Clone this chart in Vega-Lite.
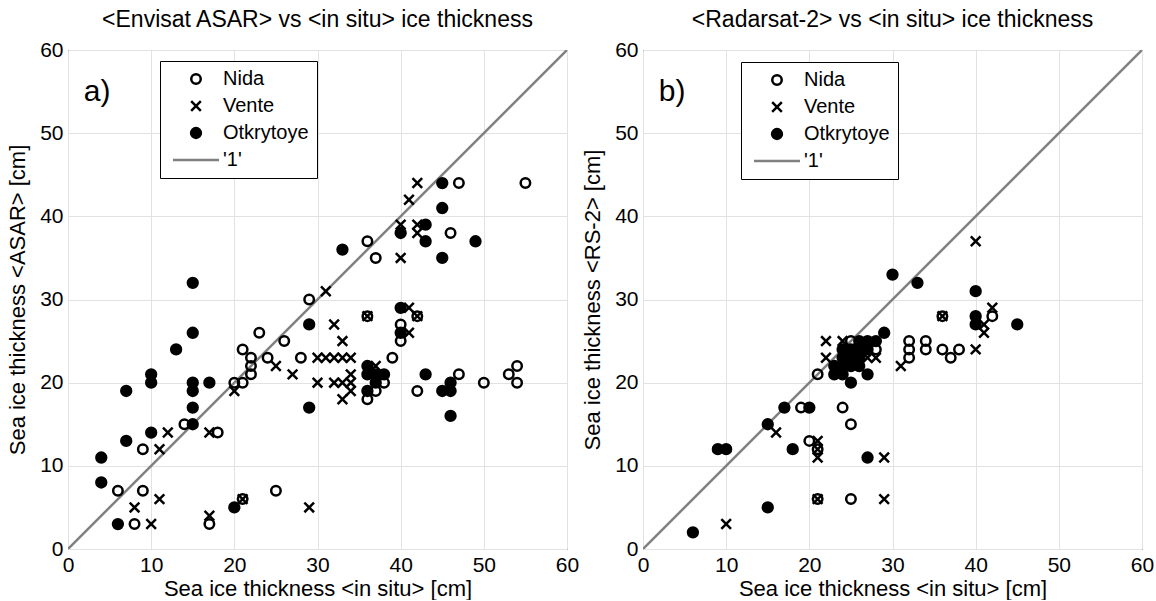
{
  "$schema": "https://vega.github.io/schema/vega-lite/v6.json",
  "padding": {"left": 6, "top": 8, "right": 2, "bottom": 0},
  "background": "white",
  "spacing": 1,
  "config": {
    "font": "Liberation Sans",
    "view": {"stroke": "black", "strokeWidth": 1},
    "axis": {"grid": true, "gridColor": "#e2e2e2", "gridWidth": 1, "ticks": false, "domain": false, "labelFontSize": 21, "labelColor": "black", "titleFontSize": 22, "titleFontWeight": "normal", "titleColor": "black", "labelPadding": 5, "labelFlush": false},
    "title": {"fontSize": 23, "fontWeight": "normal", "offset": 7, "color": "black"}
  },
  "datasets": {
    "one": [{"x": 0, "y": 0}, {"x": 60, "y": 60}],
    "asar": [
      {"series": "Nida", "x": 55, "y": 44}, {"series": "Nida", "x": 47, "y": 44}, {"series": "Nida", "x": 46, "y": 38}, {"series": "Nida", "x": 42, "y": 28}, {"series": "Nida", "x": 36, "y": 28}, {"series": "Nida", "x": 36, "y": 37}, {"series": "Nida", "x": 37, "y": 35}, {"series": "Nida", "x": 40, "y": 27}, {"series": "Nida", "x": 40, "y": 25}, {"series": "Nida", "x": 54, "y": 22}, {"series": "Nida", "x": 54, "y": 20}, {"series": "Nida", "x": 53, "y": 21}, {"series": "Nida", "x": 50, "y": 20}, {"series": "Nida", "x": 47, "y": 21}, {"series": "Nida", "x": 42, "y": 19}, {"series": "Nida", "x": 25, "y": 7}, {"series": "Nida", "x": 21, "y": 6}, {"series": "Nida", "x": 17, "y": 3}, {"series": "Nida", "x": 8, "y": 3}, {"series": "Nida", "x": 9, "y": 7}, {"series": "Nida", "x": 6, "y": 7}, {"series": "Nida", "x": 18, "y": 14}, {"series": "Nida", "x": 14, "y": 15}, {"series": "Nida", "x": 9, "y": 12}, {"series": "Nida", "x": 20, "y": 20}, {"series": "Nida", "x": 21, "y": 24}, {"series": "Nida", "x": 21, "y": 20}, {"series": "Nida", "x": 22, "y": 23}, {"series": "Nida", "x": 22, "y": 22}, {"series": "Nida", "x": 22, "y": 21}, {"series": "Nida", "x": 23, "y": 26}, {"series": "Nida", "x": 24, "y": 23}, {"series": "Nida", "x": 26, "y": 25}, {"series": "Nida", "x": 28, "y": 23}, {"series": "Nida", "x": 29, "y": 30}, {"series": "Nida", "x": 36, "y": 18}, {"series": "Nida", "x": 37, "y": 19}, {"series": "Nida", "x": 38, "y": 20}, {"series": "Nida", "x": 39, "y": 23},
      {"series": "Vente", "x": 42, "y": 44}, {"series": "Vente", "x": 41, "y": 42}, {"series": "Vente", "x": 40, "y": 39}, {"series": "Vente", "x": 42, "y": 39}, {"series": "Vente", "x": 42, "y": 38}, {"series": "Vente", "x": 40, "y": 35}, {"series": "Vente", "x": 31, "y": 31}, {"series": "Vente", "x": 32, "y": 27}, {"series": "Vente", "x": 33, "y": 25}, {"series": "Vente", "x": 30, "y": 23}, {"series": "Vente", "x": 31, "y": 23}, {"series": "Vente", "x": 32, "y": 23}, {"series": "Vente", "x": 33, "y": 23}, {"series": "Vente", "x": 34, "y": 23}, {"series": "Vente", "x": 30, "y": 20}, {"series": "Vente", "x": 32, "y": 20}, {"series": "Vente", "x": 33, "y": 20}, {"series": "Vente", "x": 34, "y": 20}, {"series": "Vente", "x": 34, "y": 21}, {"series": "Vente", "x": 34, "y": 19}, {"series": "Vente", "x": 33, "y": 18}, {"series": "Vente", "x": 41, "y": 29}, {"series": "Vente", "x": 42, "y": 28}, {"series": "Vente", "x": 36, "y": 28}, {"series": "Vente", "x": 41, "y": 26}, {"series": "Vente", "x": 37, "y": 22}, {"series": "Vente", "x": 12, "y": 14}, {"series": "Vente", "x": 11, "y": 12}, {"series": "Vente", "x": 11, "y": 6}, {"series": "Vente", "x": 8, "y": 5}, {"series": "Vente", "x": 10, "y": 3}, {"series": "Vente", "x": 17, "y": 4}, {"series": "Vente", "x": 17, "y": 14}, {"series": "Vente", "x": 21, "y": 6}, {"series": "Vente", "x": 29, "y": 5}, {"series": "Vente", "x": 20, "y": 19}, {"series": "Vente", "x": 25, "y": 22}, {"series": "Vente", "x": 27, "y": 21},
      {"series": "Otkrytoye", "x": 45, "y": 44}, {"series": "Otkrytoye", "x": 45, "y": 41}, {"series": "Otkrytoye", "x": 43, "y": 39}, {"series": "Otkrytoye", "x": 43, "y": 37}, {"series": "Otkrytoye", "x": 40, "y": 38}, {"series": "Otkrytoye", "x": 49, "y": 37}, {"series": "Otkrytoye", "x": 33, "y": 36}, {"series": "Otkrytoye", "x": 45, "y": 35}, {"series": "Otkrytoye", "x": 15, "y": 32}, {"series": "Otkrytoye", "x": 15, "y": 26}, {"series": "Otkrytoye", "x": 13, "y": 24}, {"series": "Otkrytoye", "x": 10, "y": 21}, {"series": "Otkrytoye", "x": 10, "y": 20}, {"series": "Otkrytoye", "x": 7, "y": 19}, {"series": "Otkrytoye", "x": 15, "y": 20}, {"series": "Otkrytoye", "x": 15, "y": 19}, {"series": "Otkrytoye", "x": 17, "y": 20}, {"series": "Otkrytoye", "x": 15, "y": 17}, {"series": "Otkrytoye", "x": 15, "y": 15}, {"series": "Otkrytoye", "x": 10, "y": 14}, {"series": "Otkrytoye", "x": 7, "y": 13}, {"series": "Otkrytoye", "x": 4, "y": 11}, {"series": "Otkrytoye", "x": 4, "y": 8}, {"series": "Otkrytoye", "x": 6, "y": 3}, {"series": "Otkrytoye", "x": 20, "y": 5}, {"series": "Otkrytoye", "x": 29, "y": 27}, {"series": "Otkrytoye", "x": 29, "y": 17}, {"series": "Otkrytoye", "x": 36, "y": 22}, {"series": "Otkrytoye", "x": 36, "y": 21}, {"series": "Otkrytoye", "x": 36, "y": 19}, {"series": "Otkrytoye", "x": 37, "y": 21}, {"series": "Otkrytoye", "x": 38, "y": 21}, {"series": "Otkrytoye", "x": 37, "y": 20}, {"series": "Otkrytoye", "x": 40, "y": 29}, {"series": "Otkrytoye", "x": 40, "y": 26}, {"series": "Otkrytoye", "x": 43, "y": 21}, {"series": "Otkrytoye", "x": 45, "y": 19}, {"series": "Otkrytoye", "x": 46, "y": 19}, {"series": "Otkrytoye", "x": 46, "y": 20}, {"series": "Otkrytoye", "x": 46, "y": 16}
    ],
    "rs2": [
      {"series": "Nida", "x": 25, "y": 25}, {"series": "Nida", "x": 21, "y": 21}, {"series": "Nida", "x": 28, "y": 24}, {"series": "Nida", "x": 24, "y": 17}, {"series": "Nida", "x": 25, "y": 15}, {"series": "Nida", "x": 20, "y": 13}, {"series": "Nida", "x": 21, "y": 12}, {"series": "Nida", "x": 21, "y": 6}, {"series": "Nida", "x": 25, "y": 6}, {"series": "Nida", "x": 19, "y": 17}, {"series": "Nida", "x": 36, "y": 28}, {"series": "Nida", "x": 42, "y": 28}, {"series": "Nida", "x": 32, "y": 25}, {"series": "Nida", "x": 32, "y": 24}, {"series": "Nida", "x": 32, "y": 23}, {"series": "Nida", "x": 34, "y": 25}, {"series": "Nida", "x": 34, "y": 24}, {"series": "Nida", "x": 36, "y": 24}, {"series": "Nida", "x": 37, "y": 23}, {"series": "Nida", "x": 38, "y": 24},
      {"series": "Vente", "x": 22, "y": 25}, {"series": "Vente", "x": 24, "y": 25}, {"series": "Vente", "x": 22, "y": 23}, {"series": "Vente", "x": 27, "y": 23}, {"series": "Vente", "x": 28, "y": 23}, {"series": "Vente", "x": 31, "y": 22}, {"series": "Vente", "x": 16, "y": 14}, {"series": "Vente", "x": 21, "y": 13}, {"series": "Vente", "x": 21, "y": 12}, {"series": "Vente", "x": 21, "y": 11}, {"series": "Vente", "x": 29, "y": 11}, {"series": "Vente", "x": 21, "y": 6}, {"series": "Vente", "x": 29, "y": 6}, {"series": "Vente", "x": 10, "y": 3}, {"series": "Vente", "x": 40, "y": 37}, {"series": "Vente", "x": 42, "y": 29}, {"series": "Vente", "x": 41, "y": 26}, {"series": "Vente", "x": 41, "y": 27}, {"series": "Vente", "x": 40, "y": 24}, {"series": "Vente", "x": 36, "y": 28},
      {"series": "Otkrytoye", "x": 30, "y": 33}, {"series": "Otkrytoye", "x": 33, "y": 32}, {"series": "Otkrytoye", "x": 40, "y": 31}, {"series": "Otkrytoye", "x": 40, "y": 28}, {"series": "Otkrytoye", "x": 40, "y": 27}, {"series": "Otkrytoye", "x": 45, "y": 27}, {"series": "Otkrytoye", "x": 29, "y": 26}, {"series": "Otkrytoye", "x": 23, "y": 21}, {"series": "Otkrytoye", "x": 25, "y": 20}, {"series": "Otkrytoye", "x": 27, "y": 21}, {"series": "Otkrytoye", "x": 17, "y": 17}, {"series": "Otkrytoye", "x": 20, "y": 17}, {"series": "Otkrytoye", "x": 15, "y": 15}, {"series": "Otkrytoye", "x": 9, "y": 12}, {"series": "Otkrytoye", "x": 10, "y": 12}, {"series": "Otkrytoye", "x": 18, "y": 12}, {"series": "Otkrytoye", "x": 27, "y": 11}, {"series": "Otkrytoye", "x": 15, "y": 5}, {"series": "Otkrytoye", "x": 6, "y": 2}, {"series": "Otkrytoye", "x": 23, "y": 22}, {"series": "Otkrytoye", "x": 24, "y": 22}, {"series": "Otkrytoye", "x": 24, "y": 23}, {"series": "Otkrytoye", "x": 24, "y": 24}, {"series": "Otkrytoye", "x": 25, "y": 22}, {"series": "Otkrytoye", "x": 25, "y": 23}, {"series": "Otkrytoye", "x": 25, "y": 24}, {"series": "Otkrytoye", "x": 26, "y": 22}, {"series": "Otkrytoye", "x": 26, "y": 24}, {"series": "Otkrytoye", "x": 26, "y": 25}, {"series": "Otkrytoye", "x": 27, "y": 24}, {"series": "Otkrytoye", "x": 27, "y": 25}, {"series": "Otkrytoye", "x": 28, "y": 25}, {"series": "Otkrytoye", "x": 24, "y": 21}, {"series": "Otkrytoye", "x": 26, "y": 23}
    ]
  },
  "hconcat": [
    {
      "title": "<Envisat ASAR> vs <in situ> ice thickness",
      "width": 499, "height": 499,
      "layer": [
        {
          "data": {"name": "one"},
          "mark": {"type": "line", "stroke": "#808080", "strokeWidth": 2.5, "clip": true},
          "encoding": {
            "x": {"field": "x", "type": "quantitative", "scale": {"domain": [0, 60], "nice": false}, "axis": {"title": "Sea ice thickness <in situ> [cm]", "values": [0, 10, 20, 30, 40, 50, 60], "titlePadding": 3}},
            "y": {"field": "y", "type": "quantitative", "scale": {"domain": [0, 60], "nice": false}, "axis": {"title": "Sea ice thickness <ASAR> [cm]", "values": [0, 10, 20, 30, 40, 50, 60], "titlePadding": 10}}
          }
        },
        {
          "data": {"name": "asar"},
          "mark": {"type": "point", "opacity": 1, "strokeWidth": 2.5},
          "encoding": {
            "x": {"field": "x", "type": "quantitative"},
            "y": {"field": "y", "type": "quantitative"},
            "shape": {"field": "series", "type": "nominal", "scale": {"domain": ["Nida", "Vente", "Otkrytoye", "'1'"], "range": ["circle", "M-1,-1L1,1M1,-1L-1,1", "circle", "M-4.6,0L4.6,0"]},
              "legend": {"title": null, "orient": "none", "legendX": 92, "legendY": 11, "strokeColor": "black", "fillColor": "white", "padding": 8, "labelFontSize": 20, "labelColor": "black", "rowPadding": 7, "symbolStrokeWidth": 2.5, "symbolOffset": 18, "labelOffset": 17, "cornerRadius": 0}},
            "fill": {"field": "series", "type": "nominal", "scale": {"domain": ["Nida", "Vente", "Otkrytoye", "'1'"], "range": ["transparent", "transparent", "black", "transparent"]}},
            "stroke": {"field": "series", "type": "nominal", "scale": {"domain": ["Nida", "Vente", "Otkrytoye", "'1'"], "range": ["black", "black", "black", "#808080"]}},
            "size": {"field": "series", "type": "nominal", "scale": {"domain": ["Nida", "Vente", "Otkrytoye", "'1'"], "range": [90, 100, 130, 100]}}
          }
        },
        {
          "data": {"values": [{"label": "a)"}]},
          "mark": {"type": "text", "fontSize": 30, "align": "center", "baseline": "middle", "color": "black"},
          "encoding": {"text": {"field": "label"}, "x": {"datum": 3.5}, "y": {"datum": 55}}
        }
      ]
    },
    {
      "title": "<Radarsat-2> vs <in situ> ice thickness",
      "width": 499, "height": 499,
      "layer": [
        {
          "data": {"name": "one"},
          "mark": {"type": "line", "stroke": "#808080", "strokeWidth": 2.5, "clip": true},
          "encoding": {
            "x": {"field": "x", "type": "quantitative", "scale": {"domain": [0, 60], "nice": false}, "axis": {"title": "Sea ice thickness <in situ> [cm]", "values": [0, 10, 20, 30, 40, 50, 60], "titlePadding": 3}},
            "y": {"field": "y", "type": "quantitative", "scale": {"domain": [0, 60], "nice": false}, "axis": {"title": "Sea ice thickness <RS-2> [cm]", "values": [0, 10, 20, 30, 40, 50, 60], "titlePadding": 10}}
          }
        },
        {
          "data": {"name": "rs2"},
          "mark": {"type": "point", "opacity": 1, "strokeWidth": 2.5},
          "encoding": {
            "x": {"field": "x", "type": "quantitative"},
            "y": {"field": "y", "type": "quantitative"},
            "shape": {"field": "series", "type": "nominal", "scale": {"domain": ["Nida", "Vente", "Otkrytoye", "'1'"], "range": ["circle", "M-1,-1L1,1M1,-1L-1,1", "circle", "M-4.6,0L4.6,0"]},
              "legend": {"title": null, "orient": "none", "legendX": 98, "legendY": 12, "strokeColor": "black", "fillColor": "white", "padding": 8, "labelFontSize": 20, "labelColor": "black", "rowPadding": 7, "symbolStrokeWidth": 2.5, "symbolOffset": 18, "labelOffset": 17, "cornerRadius": 0}},
            "fill": {"field": "series", "type": "nominal", "scale": {"domain": ["Nida", "Vente", "Otkrytoye", "'1'"], "range": ["transparent", "transparent", "black", "transparent"]}},
            "stroke": {"field": "series", "type": "nominal", "scale": {"domain": ["Nida", "Vente", "Otkrytoye", "'1'"], "range": ["black", "black", "black", "#808080"]}},
            "size": {"field": "series", "type": "nominal", "scale": {"domain": ["Nida", "Vente", "Otkrytoye", "'1'"], "range": [90, 100, 130, 100]}}
          }
        },
        {
          "data": {"values": [{"label": "b)"}]},
          "mark": {"type": "text", "fontSize": 30, "align": "center", "baseline": "middle", "color": "black"},
          "encoding": {"text": {"field": "label"}, "x": {"datum": 3.5}, "y": {"datum": 55}}
        }
      ]
    }
  ],
  "resolve": {"scale": {"shape": "independent", "fill": "independent", "stroke": "independent", "size": "independent"}, "legend": {"shape": "independent", "fill": "independent", "stroke": "independent", "size": "independent"}}
}
